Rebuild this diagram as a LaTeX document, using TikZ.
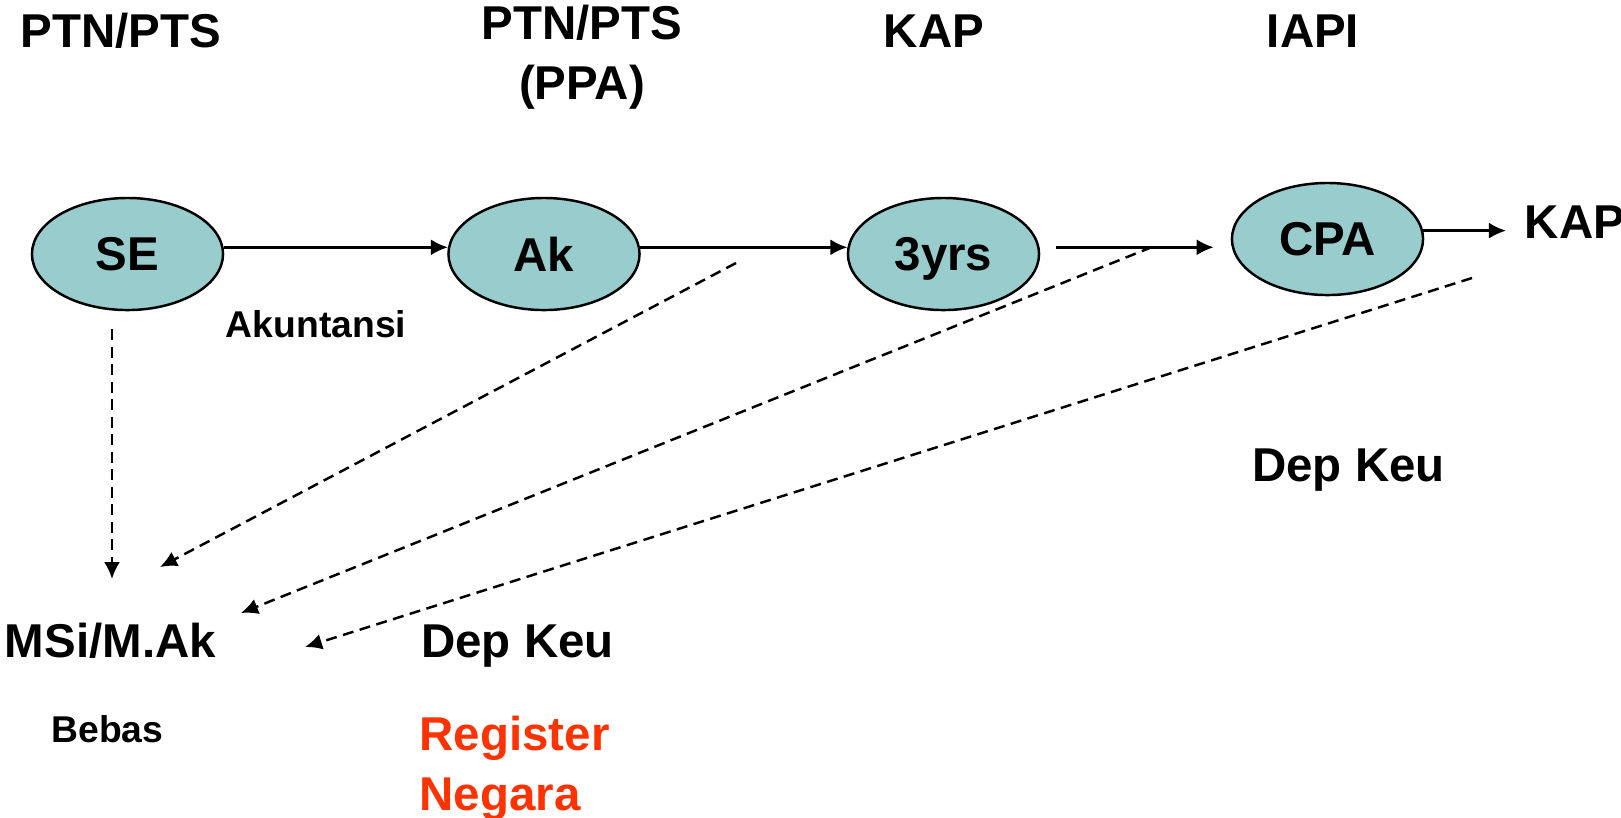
\documentclass[tikz,border=0pt]{standalone}
\usepackage{fontspec}
\setmainfont{Liberation Sans}
\usetikzlibrary{shapes.geometric,arrows.meta}
\definecolor{colStage}{RGB}{153, 204, 204}
\definecolor{colRegister}{RGB}{255, 51, 0}

\begin{document}
\begin{tikzpicture}[x=0.01cm, y=-0.01cm, >={Latex[length=0.17cm,width=0.16cm]}]

  % Page frame (1 px of the slide = 0.01cm, y runs down)
  \useasboundingbox (0,0) rectangle (1621,817);

  % Styles for stages, labels and arrows
  \tikzset{
    stage/.style={
      ellipse, draw=black, line width=0.7pt, fill=colStage,
      minimum width=1.91cm, minimum height=1.12cm, inner sep=0pt,
      font=\bfseries\fontsize{13.5}{16.8}\selectfont, text depth=0pt
    },
    biglabel/.style={
      font=\bfseries\fontsize{13.5}{16.8}\selectfont,
      align=center, inner sep=0pt
    },
    smalllabel/.style={
      font=\bfseries\fontsize{10.6}{12.7}\selectfont, inner sep=0pt
    },
    flow/.style={->, line width=0.7pt},
    shortcut/.style={->, line width=0.7pt, dash pattern=on 0.11cm off 0.065cm}
  }

  % Institutions along the top (multi-line nodes sit on their last line)
  \node[biglabel, anchor=base] (ptnA) at (121,47)  {PTN/PTS};
  \node[biglabel, anchor=base] (ptnB) at (582,99)  {PTN/PTS\\(PPA)};
  \node[biglabel, anchor=base] (kapA) at (934,47)  {KAP};
  \node[biglabel, anchor=base] (iapi) at (1313,47) {IAPI};

  % Main path: SE -> Ak -> 3yrs -> CPA -> KAP
  \node[stage] (se)  at (127.5,254)  {SE};
  \node[stage] (ak)  at (544,254)    {Ak};
  \node[stage] (yrs) at (943.5,254)  {3yrs};
  \node[stage] (cpa) at (1327.5,239) {CPA};
  \node[biglabel, anchor=base west] (kapB) at (1524,238) {KAP};

  \draw[flow] (se.4) -- (ak.176);
  \draw[flow] (ak.4) -- (yrs.176);
  \draw[flow, shorten <=0.16cm, shorten >=0.17cm] (yrs.4) -- (yrs.4 -| cpa.west);
  \draw[flow, shorten >=0.18cm] (cpa.5) -- (kapB.west |- cpa.5);

  % Side labels
  \node[smalllabel, anchor=base] (akun)  at (316,337)    {Akuntansi};
  \node[biglabel,   anchor=base] (depA)  at (1348.5,481) {Dep Keu};

  % Bottom row
  \node[biglabel,   anchor=base] (msi)   at (110.5,657) {MSi/M.Ak};
  \node[smalllabel, anchor=base] (bebas) at (107.5,742) {Bebas};
  \node[biglabel,   anchor=base] (depB)  at (517.5,657) {Dep Keu};
  \node[biglabel, anchor=base west, align=left, text=colRegister]
    (reg) at (419,810) {Register\\Negara};

  % Dashed shortcuts towards MSi/M.Ak
  \coordinate (seDrop)  at (112,329);
  \coordinate (msiIn0)  at (112,579);
  \coordinate (akDrop)  at (736,263);
  \coordinate (msiIn1)  at (160,567);
  \coordinate (yrsDrop) at (1152,247);
  \coordinate (msiIn2)  at (241,613);
  \coordinate (cpaDrop) at (1472,278);
  \coordinate (msiIn3)  at (305,647);

  \draw[shortcut] (seDrop)  -- (msiIn0);
  \draw[shortcut] (akDrop)  -- (msiIn1);
  \draw[shortcut] (yrsDrop) -- (msiIn2);
  \draw[shortcut] (cpaDrop) -- (msiIn3);

\end{tikzpicture}
\end{document}
